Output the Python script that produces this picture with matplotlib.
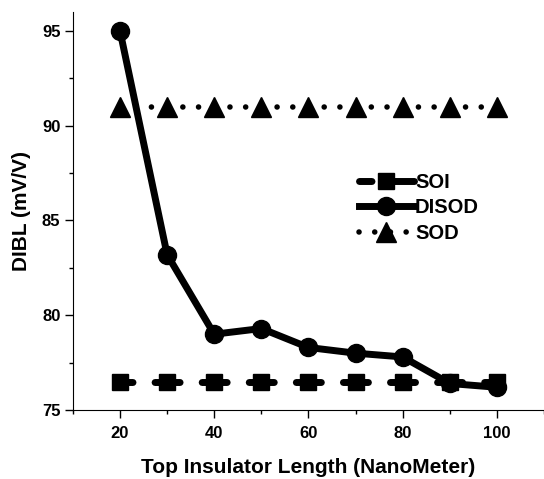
import numpy as np
import matplotlib.pyplot as plt
from matplotlib.ticker import MultipleLocator

plt.rcParams['font.family'] = ['Liberation Sans', 'DejaVu Sans']
plt.rcParams['font.weight'] = 'bold'

length = [20, 30, 40, 50, 60, 70, 80, 90, 100]
soi = [76.5, 76.5, 76.5, 76.5, 76.5, 76.5, 76.5, 76.5, 76.5]
disod = [95.0, 83.2, 79.0, 79.3, 78.3, 78.0, 77.8, 76.4, 76.2]
sod = [91.0, 91.0, 91.0, 91.0, 91.0, 91.0, 91.0, 91.0, 91.0]

fig = plt.figure(figsize=(5.44, 4.79), dpi=100)
ax = fig.add_axes([0.134, 0.144, 0.866, 0.831])

# one point step is about 33.9 pt on screen, dash patterns are tuned to it
ax.plot(length, soi, color='black', lw=5, ls=(1.8, (3.6, 3.18)), marker='s',
        ms=11, label='SOI', dash_capstyle='round')
ax.plot(length, disod, color='black', lw=5, ls='-', marker='o', ms=13,
        label='DISOD')
ax.plot(length, sod, color='black', lw=4, ls=(0, (0.01, 2.817)), marker='^',
        ms=14, label='SOD', dash_capstyle='round')

ax.set_xlim(10, 110)
ax.set_ylim(75, 96)
ax.xaxis.set_major_locator(MultipleLocator(20))
ax.xaxis.set_minor_locator(MultipleLocator(10))
ax.yaxis.set_major_locator(MultipleLocator(5))
ax.yaxis.set_minor_locator(MultipleLocator(2.5))
ax.set_xticks([20, 40, 60, 80, 100])
ax.tick_params(which='major', direction='out', length=5.5, width=1, labelsize=12)
ax.tick_params(axis='x', which='major', pad=6)
ax.tick_params(which='minor', direction='out', length=3, width=1)
ax.spines['top'].set_visible(False)
ax.spines['right'].set_visible(False)

ax.set_xlabel('Top Insulator Length (NanoMeter)', fontsize=15, fontweight='bold', labelpad=12)
ax.set_ylabel('DIBL (mV/V)', fontsize=15, fontweight='bold', labelpad=8)

ax.legend(loc='center left', bbox_to_anchor=(0.585, 0.508), frameon=False,
          handlelength=2.75, handletextpad=0.05, labelspacing=0.32, borderpad=0,
          prop={'weight': 'bold', 'size': 14.5})

fig.savefig('out.png', dpi=100)
